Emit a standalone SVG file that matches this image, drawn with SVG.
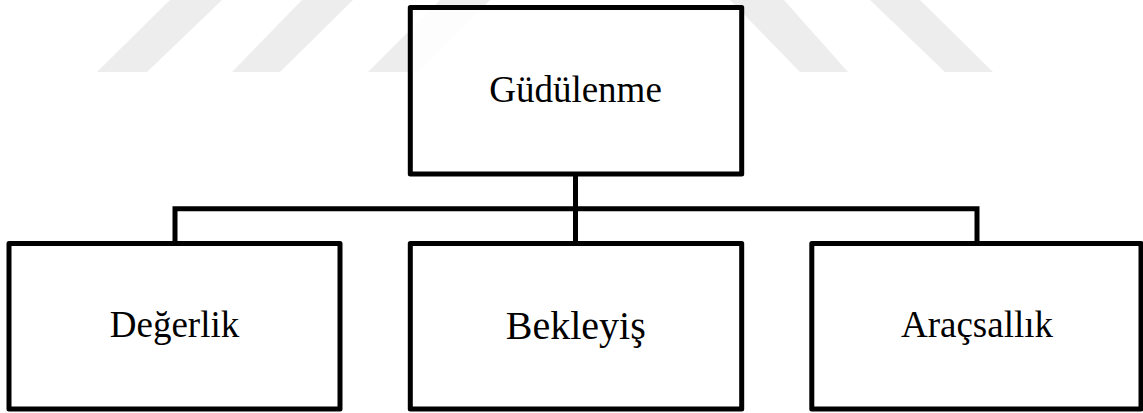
<svg xmlns="http://www.w3.org/2000/svg" width="1143" height="413" viewBox="0 0 1143 413">
  <style>
    .box { fill: #ffffff; fill-opacity: 0.85; stroke: #000000; stroke-width: 5; stroke-linejoin: round; }
    .lbl { font-family: "Liberation Serif", "Times New Roman", serif; fill: #000000; text-anchor: middle; }
    .wm { fill: #ededed; }
    .conn { fill: none; stroke: #000000; stroke-width: 5; stroke-linejoin: miter; }
  </style>
  <rect x="0" y="0" width="1143" height="413" fill="#ffffff"/>
  <g id="watermark">
    <polygon class="wm" points="170,0 222,0 147,72 97,72"/>
    <polygon class="wm" points="302,0 353,0 280,72 232,72"/>
    <polygon class="wm" points="440,0 490,0 418,72 368,72"/>
    <polygon class="wm" points="730,0 784,0 848,72 800,72"/>
    <polygon class="wm" points="870,0 920,0 993,72 945,72"/>
  </g>
  <g id="connectors">
    <line class="conn" x1="575.5" y1="174" x2="575.5" y2="243.5"/>
    <polyline class="conn" points="175,243.5 175,208.7 977,208.7 977,243.5"/>
  </g>
  <g id="node-gudulenme">
    <rect class="box" x="410.3" y="7.5" width="331.4" height="166.5"/>
    <text class="lbl" x="575.5" y="101.7" font-size="37">Güdülenme</text>
  </g>
  <g id="node-degerlik">
    <rect class="box" x="9" y="243.5" width="331" height="165.5"/>
    <text class="lbl" x="174.5" y="337.3" font-size="37">Değerlik</text>
  </g>
  <g id="node-bekleyis">
    <rect class="box" x="410.3" y="243.5" width="331.4" height="165.5"/>
    <text class="lbl" x="575.8" y="339.3" font-size="40">Bekleyiş</text>
  </g>
  <g id="node-aracsallik">
    <rect class="box" x="811.8" y="243.5" width="329.2" height="165.5"/>
    <text class="lbl" x="977" y="337" font-size="37">Araçsallık</text>
  </g>
</svg>
